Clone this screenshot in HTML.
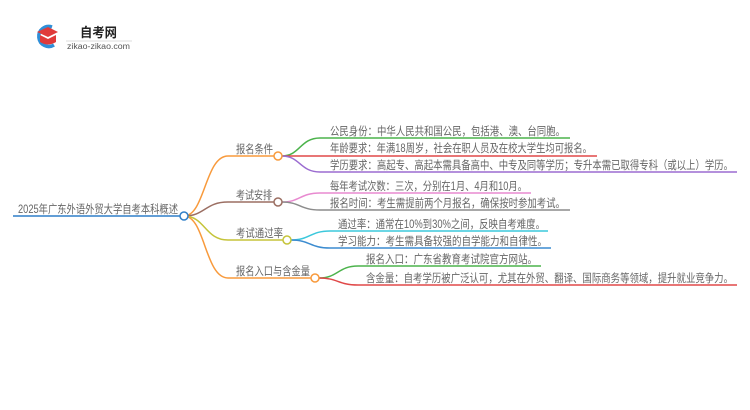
<!DOCTYPE html>
<html><head><meta charset="utf-8"><style>
html,body{margin:0;padding:0;background:#fff;}
svg{display:block;}
text{font-family:"Liberation Sans","Noto Sans CJK SC",sans-serif;}
</style></head><body>
<svg width="750" height="410" viewBox="0 0 750 410" xmlns="http://www.w3.org/2000/svg">
<path d="M52 27 A10 10 0 1 0 54 45" fill="none" stroke="#2f8fd8" stroke-width="3.5"/>
<path d="M37 32 L48 27 L58 32 L48 37 Z" fill="#e03a3a"/>
<path d="M40 35 L40 42 Q48 47 56 42 L56 35 L48 39 Z" fill="#e03a3a"/>
<text x="80" y="37" font-size="13" font-weight="bold" fill="#222" textLength="37" lengthAdjust="spacingAndGlyphs">自考网</text>
<line x1="66" y1="41" x2="132" y2="41" stroke="#ddd" stroke-width="1"/>
<text x="67" y="49" font-size="8" fill="#555" textLength="63" lengthAdjust="spacingAndGlyphs">zikao-zikao.com</text>

<g fill="none" stroke-width="1.5">
<line x1="13" y1="216" x2="180" y2="216" stroke="#2f7fc8"/>
<path d="M184 216 C205 216 205 156 228 156 L274 156" stroke="#f89a3c"/>
<path d="M184 216 C205 216 205 202 228 202 L274 202" stroke="#9b6e62"/>
<path d="M184 216 C205 216 205 240 228 240 L283 240" stroke="#c5c43a"/>
<path d="M184 216 C205 216 205 278 228 278 L311 278" stroke="#f89a3c"/>
<path d="M282 156 C300 156 300 138 320 138 L570 138" stroke="#4cb34c"/>
<path d="M282 156 L597 156" stroke="#e04848"/>
<path d="M282 156 C300 156 300 172 320 172 L737 172" stroke="#9b6cd0"/>
<path d="M282 202 C300 202 300 193 320 193 L531 193" stroke="#e88ad0"/>
<path d="M282 202 C300 202 300 210 320 210 L570 210" stroke="#8c8c8c"/>
<path d="M291 240 C310 240 310 231 330 231 L548 231" stroke="#3cc8dc"/>
<path d="M291 240 C310 240 310 248 330 248 L551 248" stroke="#3c8cd0"/>
<path d="M319 278 C338 278 338 266 358 266 L541 266" stroke="#4cb34c"/>
<path d="M319 278 C338 278 338 285 358 285 L737 285" stroke="#e04848"/>
</g>
<g fill="#fff" stroke-width="1.5">
<circle cx="184" cy="216" r="4" stroke="#2f7fc8"/>
<circle cx="278" cy="156" r="4" stroke="#f89a3c"/>
<circle cx="278" cy="202" r="4" stroke="#9b6e62"/>
<circle cx="287" cy="240" r="4" stroke="#c5c43a"/>
<circle cx="315" cy="278" r="4" stroke="#f89a3c"/>
</g>
<g font-size="11.5" fill="#666">
<text x="18" y="213" textLength="160" lengthAdjust="spacingAndGlyphs">2025年广东外语外贸大学自考本科概述</text>
<text x="236" y="153" textLength="37" lengthAdjust="spacingAndGlyphs">报名条件</text>
<text x="236" y="199" textLength="36" lengthAdjust="spacingAndGlyphs">考试安排</text>
<text x="236" y="237" textLength="47" lengthAdjust="spacingAndGlyphs">考试通过率</text>
<text x="236" y="275" textLength="74" lengthAdjust="spacingAndGlyphs">报名入口与含金量</text>
<text x="330" y="135" textLength="235" lengthAdjust="spacingAndGlyphs">公民身份：中华人民共和国公民，包括港、澳、台同胞。</text>
<text x="330" y="152" textLength="262" lengthAdjust="spacingAndGlyphs">年龄要求：年满18周岁，社会在职人员及在校大学生均可报名。</text>
<text x="330" y="169" textLength="403" lengthAdjust="spacingAndGlyphs">学历要求：高起专、高起本需具备高中、中专及同等学历；专升本需已取得专科（或以上）学历。</text>
<text x="330" y="190" textLength="197" lengthAdjust="spacingAndGlyphs">每年考试次数：三次，分别在1月、4月和10月。</text>
<text x="330" y="207" textLength="235" lengthAdjust="spacingAndGlyphs">报名时间：考生需提前两个月报名，确保按时参加考试。</text>
<text x="338" y="228" textLength="207" lengthAdjust="spacingAndGlyphs">通过率：通常在10%到30%之间，反映自考难度。</text>
<text x="338" y="245" textLength="209" lengthAdjust="spacingAndGlyphs">学习能力：考生需具备较强的自学能力和自律性。</text>
<text x="366" y="263" textLength="171" lengthAdjust="spacingAndGlyphs">报名入口：广东省教育考试院官方网站。</text>
<text x="366" y="282" textLength="367" lengthAdjust="spacingAndGlyphs">含金量：自考学历被广泛认可，尤其在外贸、翻译、国际商务等领域，提升就业竞争力。</text>
</g>
</svg>
</body></html>
